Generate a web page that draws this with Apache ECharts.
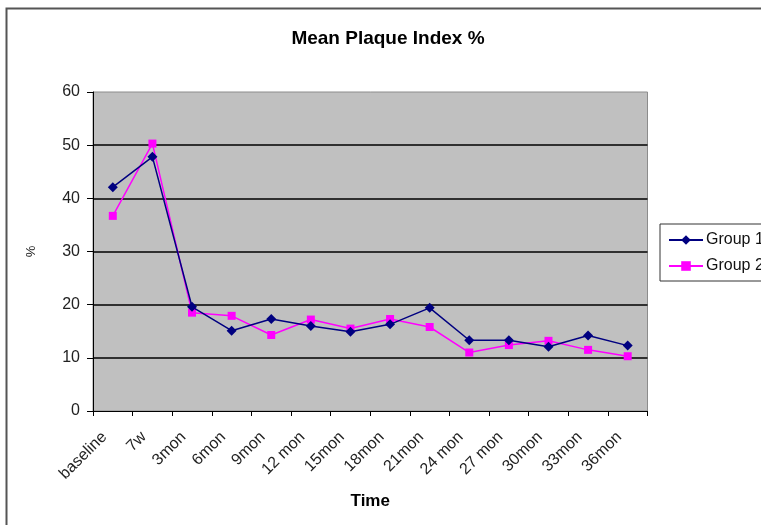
<!DOCTYPE html>
<html>
<head>
<meta charset="utf-8">
<title>Mean Plaque Index %</title>
<script src="https://cdn.jsdelivr.net/npm/echarts@6/dist/echarts.min.js"></script>
<style>
  html, body { margin: 0; padding: 0; background: #ffffff; }
  #chart { width: 761px; height: 525px; }
</style>
</head>
<body>
<div id="chart"></div>
<script>
// Time points of the follow-up
var categories = ['baseline', '7w', '3mon', '6mon', '9mon', '12 mon', '15mon', '18mon', '21mon', '24 mon', '27 mon', '30mon', '33mon', '36mon'];

// Mean plaque index (%) per group
var group1 = [42.1, 47.8, 19.6, 15.1, 17.3, 16.0, 14.9, 16.3, 19.4, 13.3, 13.3, 12.1, 14.2, 12.3];
var group2 = [36.7, 50.3, 18.5, 17.9, 14.3, 17.2, 15.5, 17.3, 15.8, 11.0, 12.4, 13.2, 11.5, 10.3];

// Value axis ticks
var yTicks = [0, 10, 20, 30, 40, 50, 60];

var FONT = 'Arial, "Liberation Sans", sans-serif';

var chart = echarts.init(document.getElementById('chart'), null, { renderer: 'canvas' });

chart.setOption({
  animation: false,
  backgroundColor: '#ffffff',
  textStyle: { fontFamily: FONT },
  graphic: [
    {
      type: 'rect',
      shape: { x: 6.5, y: 8.5, width: 900, height: 700 },
      style: { fill: null, stroke: '#555555', lineWidth: 2 },
      silent: true,
      z: 100
    },
    {
      type: 'text',
      x: 388,
      y: 39,
      style: {
        text: 'Mean Plaque Index %',
        fontFamily: FONT,
        fontWeight: 'bold',
        fontSize: 19,
        fill: '#000000',
        textAlign: 'center',
        textVerticalAlign: 'middle'
      }
    }
  ],
  grid: {
    left: 93,
    right: 113.5,
    top: 92,
    bottom: 114,
    show: true,
    backgroundColor: '#c0c0c0',
    borderColor: '#8c8c8c',
    borderWidth: 1
  },
  legend: {
    orient: 'vertical',
    left: 660,
    top: 224,
    padding: [8, 40, 7, 8],
    itemGap: 10,
    itemWidth: 34,
    itemHeight: 12,
    backgroundColor: '#ffffff',
    borderColor: '#333333',
    borderWidth: 1,
    textStyle: { fontFamily: FONT, fontSize: 16, color: '#111111', padding: [0, 0, 0, -2] },
    data: ['Group 1', 'Group 2']
  },
  xAxis: {
    type: 'category',
    data: categories,
    boundaryGap: true,
    name: 'Time',
    nameLocation: 'middle',
    nameGap: 82,
    nameTextStyle: { fontFamily: FONT, fontWeight: 'bold', fontSize: 17, color: '#000000' },
    axisLine: { show: true, lineStyle: { color: '#000000', width: 1 } },
    axisTick: { show: true, alignWithLabel: false, length: 5, lineStyle: { color: '#000000' } },
    axisLabel: {
      rotate: 45,
      interval: 0,
      margin: 15,
      padding: [0, 12, 0, 0],
      fontFamily: FONT,
      fontSize: 16,
      color: '#222222'
    },
    splitLine: { show: false }
  },
  yAxis: {
    type: 'value',
    min: yTicks[0],
    max: yTicks[yTicks.length - 1],
    interval: yTicks[1] - yTicks[0],
    name: '%',
    nameLocation: 'middle',
    nameGap: 55,
    nameRotate: 90,
    nameTextStyle: { fontFamily: FONT, fontSize: 13, color: '#222222' },
    axisLine: { show: true, lineStyle: { color: '#000000', width: 1 } },
    axisTick: { show: true, inside: false, length: 6, lineStyle: { color: '#000000' } },
    axisLabel: {
      margin: 13,
      fontFamily: FONT,
      fontSize: 16,
      color: '#222222'
    },
    splitLine: {
      show: true,
      showMinLine: false,
      showMaxLine: false,
      lineStyle: { color: '#000000', width: 1.5 }
    }
  },
  series: [
    {
      name: 'Group 1',
      type: 'line',
      data: group1,
      symbol: 'diamond',
      symbolSize: 10,
      showAllSymbol: true,
      itemStyle: { color: '#000080' },
      lineStyle: { color: '#000080', width: 1.5 },
      z: 3
    },
    {
      name: 'Group 2',
      type: 'line',
      data: group2,
      symbol: 'rect',
      symbolSize: 8,
      showAllSymbol: true,
      itemStyle: { color: '#ff00ff' },
      lineStyle: { color: '#ff00ff', width: 1.5 },
      z: 2
    }
  ]
});
</script>
</body>
</html>
